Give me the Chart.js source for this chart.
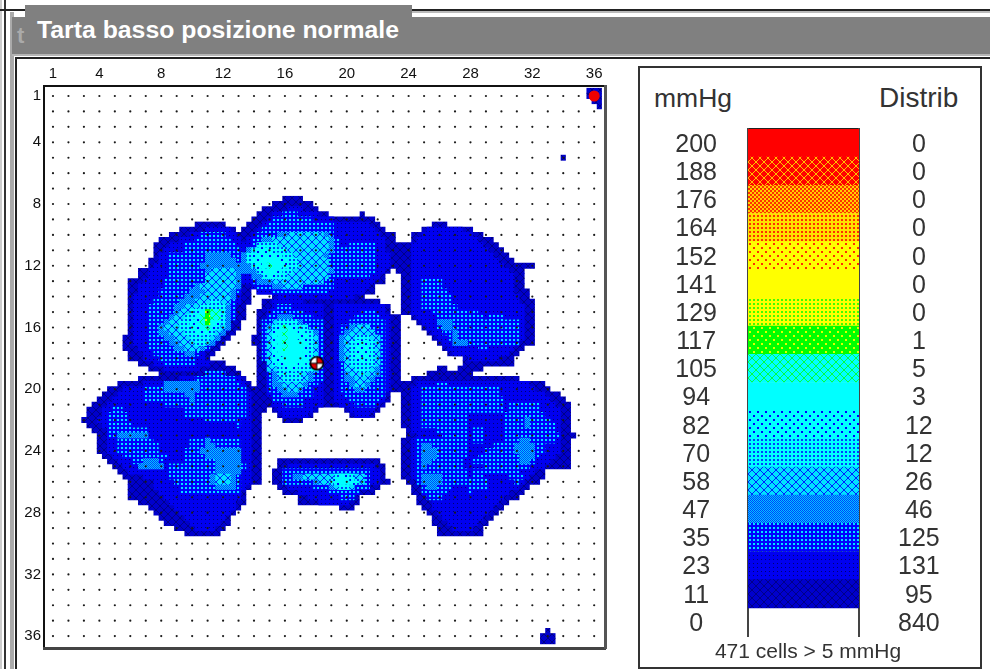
<!DOCTYPE html>
<html>
<head>
<meta charset="utf-8">
<title>Tarta basso posizione normale</title>
<script src="https://cdn.jsdelivr.net/npm/chart.js@4"></script>
<style>
  html, body { margin: 0; padding: 0; background: #fff; }
  body { width: 990px; height: 669px; position: relative; overflow: hidden; font-family: "Liberation Sans", Arial, sans-serif; }
  .abs { position: absolute; }
  #title { left: 37px; top: 16px; color: #fff; font-weight: bold; font-size: 24.8px; line-height: 28px; white-space: nowrap; }
  #ghost { left: 17px; top: 22px; color: #aaa; font-weight: bold; font-size: 22px; line-height: 28px; }
  #panel { left: 638px; top: 66px; width: 340px; height: 599px; border: 2px solid #333; box-sizing: content-box; }
  .head { line-height: 30px; color: #333; white-space: nowrap; }
  #foot { left: 640px; width: 336px; top: 639px; text-align: center; font-size: 21px; line-height: 24px; color: #333; white-space: nowrap; }
  canvas { position: absolute; }
</style>
</head>
<body>
<!-- window frame -->
<div class="abs" style="left:0;top:0;width:2px;height:669px;background:#ccc"></div>
<div class="abs" style="left:4px;top:0;width:2px;height:669px;background:#333"></div>
<div class="abs" style="left:10px;top:12px;width:4px;height:657px;background:#aaa"></div>
<div class="abs" style="left:15px;top:57px;width:2px;height:612px;background:#222"></div>
<div class="abs" style="left:0;top:9px;width:25px;height:2px;background:#222"></div>
<div class="abs" style="left:412px;top:9px;width:578px;height:2px;background:#222"></div>
<div class="abs" style="left:412px;top:11px;width:578px;height:2px;background:#bbb"></div>
<div class="abs" style="left:12px;top:17px;width:978px;height:38px;background:#808080"></div>
<div class="abs" style="left:25px;top:5px;width:387px;height:13px;background:#808080"></div>
<div class="abs" style="left:12px;top:54px;width:978px;height:2px;background:#b5b5b5"></div>
<div class="abs" style="left:15px;top:57px;width:975px;height:2px;background:#222"></div>
<div class="abs" id="ghost">t</div>
<div class="abs" id="title">Tarta basso posizione normale</div>

<canvas id="mapChart" width="598" height="599" style="left:16px;top:58px"></canvas>

<div class="abs" id="panel"></div>
<div class="abs head" style="left:654px;top:83px;font-size:26.5px">mmHg</div>
<div class="abs head" style="left:879px;top:83px;font-size:28px">Distrib</div>
<canvas id="scaleChart" width="338" height="590" style="left:640px;top:70px"></canvas>
<div class="abs" id="foot">471 cells &gt; 5 mmHg</div>

<script>
// ------------------------
// DATA
// ------------------------
const axisTicks = [1, 4, 8, 12, 16, 20, 24, 28, 32, 36];
const sensorRows = 36;
const sensorCols = 36;

const mmHgLevels = [200, 188, 176, 164, 152, 141, 129, 117, 105, 94, 82, 70, 58, 47, 35, 23, 11, 0];
const distribCounts = [0, 0, 0, 0, 0, 0, 0, 1, 5, 3, 12, 12, 26, 46, 125, 131, 95, 840];

// map spans: [sub-row, first sub-column, end sub-column], three sub-cells per sensor
const spans11 = [
  [0,105,108],[1,105,108],[2,106,108],[3,107,108],[13,100,101],
  [21,46,50],[22,44,52],[23,42,53],[24,41,55],[24,61,62],[25,40,64],
  [26,29,35],[26,39,65],[26,75,78],[27,26,37],[27,38,66],[27,73,83],
  [28,24,68],[28,71,85],[29,22,68],[29,71,87],[30,21,88],[31,21,89],[32,21,90],[33,20,91],[34,20,95],
  [35,18,67],[35,68,93],[36,18,66],[36,69,93],[37,16,66],[37,69,93],[38,16,64],[38,69,93],
  [39,16,40],[39,41,64],[39,69,94],[40,16,40],[40,44,62],[40,69,94],[41,16,40],[41,42,65],[41,69,95],
  [42,16,39],[42,42,67],[42,69,95],[43,16,39],[43,41,67],[43,69,95],[44,16,39],[44,41,69],[44,71,95],
  [45,16,38],[45,41,69],[45,72,95],[46,16,38],[46,41,69],[46,73,95],[47,16,37],[47,41,69],[47,74,95],
  [48,15,36],[48,40,69],[48,75,95],[49,15,35],[49,40,69],[49,76,95],[50,15,34],[50,41,69],[50,77,93],
  [51,16,33],[51,41,69],[51,78,92],[52,16,32],[52,41,69],[52,81,91],[53,18,35],[53,41,69],[53,81,91],
  [54,20,37],[54,41,69],[54,76,78],[54,80,85],[55,22,38],[55,41,69],[55,74,83],[56,18,39],[56,41,69],[56,71,92],
  [57,14,40],[57,41,97],[58,12,98],[59,11,67],[59,69,100],[60,10,67],[60,69,101],[61,9,66],[61,69,102],
  [62,8,43],[62,44,53],[62,58,65],[62,69,102],[63,8,42],[63,45,52],[63,59,64],[63,69,102],
  [64,7,42],[64,46,50],[64,69,102],[65,8,42],[65,69,102],[66,9,42],[66,70,102],[67,10,42],[67,70,103],
  [68,10,42],[68,69,102],[69,10,42],[69,69,102],[70,10,42],[70,69,102],[71,11,42],[71,69,102],
  [72,12,42],[72,45,65],[72,69,102],[73,13,42],[73,45,66],[73,69,102],[74,14,42],[74,44,66],[74,69,97],
  [75,15,42],[75,44,66],[75,69,97],[76,16,42],[76,44,67],[76,70,96],[77,16,40],[77,45,65],[77,71,94],
  [78,16,39],[78,46,64],[78,71,93],[79,16,39],[79,49,61],[79,72,92],[80,18,39],[80,49,61],[80,72,90],
  [81,20,38],[81,57,60],[81,73,89],[82,21,37],[82,74,88],[83,22,36],[83,75,87],[84,23,36],[84,75,86],
  [85,25,35],[85,76,85],[86,27,34],[86,76,85],
  [105,97,98],[106,96,99],[107,96,99]
];

const spans23 = [
  [23,47,50],[24,44,53],[25,43,56],[26,42,63],[27,31,36],[27,41,64],[27,74,81],[28,28,37],[28,40,65],[28,73,83],
  [29,26,38],[29,39,66],[29,72,84],[30,24,66],[30,71,85],[31,23,66],[31,71,86],[32,22,67],[32,71,87],
  [33,22,67],[33,71,88],[34,21,67],[34,71,89],[35,20,66],[35,71,90],[36,20,65],[36,71,91],[37,19,64],[37,71,91],
  [38,18,38],[38,40,63],[38,71,91],[39,18,38],[39,41,62],[39,71,91],[40,17,38],[40,45,60],[40,71,92],
  [41,17,38],[41,44,50],[41,71,92],[42,17,37],[42,44,54],[42,56,66],[42,71,93],[43,17,37],[43,43,54],[43,56,66],[43,71,93],
  [44,17,37],[44,43,54],[44,56,67],[44,72,93],[45,17,36],[45,43,54],[45,56,67],[45,73,93],[46,17,36],[46,43,54],[46,56,67],[46,74,93],
  [47,17,35],[47,43,54],[47,56,67],[47,75,93],[48,17,34],[48,43,54],[48,56,67],[48,76,93],[49,17,33],[49,43,54],[49,56,67],[49,77,92],
  [50,18,32],[50,43,54],[50,56,67],[50,78,91],[51,19,31],[51,43,54],[51,56,67],[51,79,90],[52,19,31],[52,43,54],[52,56,67],[52,82,88],
  [53,21,32],[53,43,54],[53,56,67],[54,23,30],[54,43,54],[54,56,67],[55,43,54],[55,56,67],
  [56,26,38],[56,43,54],[56,56,67],[57,19,39],[57,43,54],[57,56,67],[57,72,94],
  [58,15,39],[58,43,54],[58,56,67],[58,71,95],[59,14,40],[59,43,54],[59,56,66],[59,71,97],
  [60,13,40],[60,44,54],[60,56,66],[60,71,98],[61,12,40],[61,44,54],[61,57,65],[61,71,99],
  [62,11,40],[62,45,52],[62,59,64],[62,71,100],[63,11,40],[63,46,51],[63,60,63],[63,71,100],
  [64,10,40],[64,71,100],[65,11,40],[65,71,100],[66,12,40],[66,71,100],[67,12,40],[67,72,100],
  [68,12,40],[68,71,100],[69,12,40],[69,71,100],[70,12,40],[70,71,100],[71,13,40],[71,71,99],
  [72,14,40],[72,71,98],[73,15,40],[73,47,64],[73,71,97],[74,16,40],[74,46,65],[74,71,95],
  [75,19,40],[75,46,65],[75,71,94],[76,21,40],[76,46,65],[76,72,93],[77,21,39],[77,47,63],[77,73,92],
  [78,22,38],[78,49,61],[78,74,90],[79,23,38],[79,51,59],[79,74,89],[80,24,37],[80,53,59],[80,75,88],
  [81,25,37],[81,75,87],[82,26,36],[82,76,86],[83,27,35],[83,77,85],[84,28,34],[84,78,84],[85,29,33],[85,79,83]
];

const spans35 = [
  [24,46,49],[25,44,52],[26,43,56],[27,42,56],[28,30,35],[28,41,56],[29,29,36],[29,40,57],[30,27,37],[30,40,57],[30,59,64],
  [31,27,38],[31,39,64],[32,24,64],[33,24,64],[34,24,64],[35,24,64],[36,24,38],[36,40,63],
  [37,23,38],[37,40,56],[37,73,77],[38,23,38],[38,41,56],[38,73,77],[39,22,38],[39,44,55],[39,73,78],
  [40,22,37],[40,73,79],[41,21,37],[41,73,79],[42,20,37],[42,45,48],[42,73,80],[43,20,37],[43,44,50],[43,61,64],[43,75,84],
  [44,20,37],[44,43,52],[44,60,65],[44,76,85],[44,86,89],[45,20,36],[45,42,54],[45,59,66],[45,76,92],
  [46,20,36],[46,42,54],[46,57,66],[46,76,92],[47,20,35],[47,42,54],[47,57,66],[47,77,92],
  [48,20,34],[48,42,54],[48,57,66],[48,78,92],[49,20,33],[49,42,54],[49,57,66],[49,79,92],
  [50,20,32],[50,42,54],[50,57,66],[50,84,86],[51,21,30],[51,42,54],[51,57,66],[52,22,29],[52,42,54],[52,57,66],
  [53,23,29],[53,43,54],[53,57,66],[54,43,54],[54,57,66],[55,31,35],[55,43,54],[55,57,66],
  [56,29,37],[56,43,54],[56,57,66],[57,23,38],[57,43,53],[57,57,66],[57,76,78],
  [58,19,39],[58,43,52],[58,57,66],[58,73,88],[59,19,39],[59,44,52],[59,58,66],[59,73,88],
  [60,19,39],[60,44,50],[60,59,65],[60,73,89],[61,23,39],[61,46,50],[61,60,64],[61,73,89],[61,90,96],
  [62,13,15],[62,27,39],[62,73,89],[62,90,96],[63,12,16],[63,27,39],[63,73,82],[63,89,97],
  [64,12,16],[64,31,38],[64,73,82],[64,89,98],[65,12,17],[65,37,38],[65,73,82],[65,89,99],
  [66,12,20],[66,76,82],[66,83,85],[66,89,99],[67,12,20],[67,77,82],[67,83,85],[67,89,100],
  [68,14,21],[68,28,38],[68,72,82],[68,83,85],[68,89,99],[69,14,22],[69,28,38],[69,72,82],[69,87,97],
  [70,14,22],[70,27,38],[70,72,82],[70,85,97],[71,15,24],[71,27,38],[71,72,82],[71,84,96],
  [72,17,23],[72,27,38],[72,72,81],[72,83,95],[73,18,23],[73,24,39],[73,72,81],[73,85,94],
  [74,24,38],[74,46,63],[74,72,82],[74,83,92],[75,24,38],[75,46,63],[75,72,82],[75,83,85],[75,90,93],
  [76,25,38],[76,46,63],[76,72,86],[76,91,92],[77,26,38],[77,52,63],[77,73,79],[77,82,86],
  [78,26,38],[78,55,61],[78,73,78],[78,82,83],[79,57,60],[79,74,77]
];

const spans47 = [
  [28,45,55],[29,42,56],[30,41,56],[31,39,56],[32,31,36],[32,38,55],[33,31,37],[33,38,55],[34,30,38],[34,38,55],
  [35,31,38],[35,38,56],[36,31,38],[36,40,54],[37,31,38],[37,41,54],[38,29,38],[38,44,50],
  [39,28,37],[40,27,37],[41,26,36],[42,25,36],[43,25,36],[44,24,36],[44,45,48],
  [45,23,36],[45,44,50],[45,76,79],[46,22,36],[46,43,51],[46,59,63],[46,77,79],
  [47,22,35],[47,43,53],[47,58,64],[47,79,80],[48,23,34],[48,43,53],[48,57,65],[48,79,80],
  [49,24,33],[49,43,53],[49,57,65],[49,79,82],[50,25,31],[50,43,53],[50,57,65],[51,27,29],[51,43,53],[51,57,65],
  [52,43,53],[52,57,65],[53,43,53],[53,58,65],[54,43,53],[54,58,65],[55,44,52],[55,58,65],
  [56,44,52],[56,58,64],[57,23,30],[57,44,51],[57,59,63],[58,23,30],[58,45,50],[58,60,62],
  [59,27,29],[59,46,49],[60,28,29],[64,93,94],[65,93,94],[67,14,20],
  [68,31,32],[68,92,94],[69,31,33],[69,73,75],[69,91,95],[70,30,38],[70,73,76],[70,91,95],
  [71,31,38],[71,73,76],[71,92,95],[72,19,22],[72,33,38],[72,73,75],[72,92,94],[73,18,23],[73,33,38],[73,73,74],
  [74,33,38],[75,32,37],[75,48,62],[75,73,77],[76,32,37],[76,52,62],[76,73,77],[77,33,37],[77,55,60],[77,74,76]
];

const spans58 = [
  [28,47,54],[29,44,55],[30,43,55],[31,41,55],[32,40,54],[33,40,55],[34,40,55],[35,32,37],[35,41,55],
  [36,31,37],[36,42,55],[37,31,37],[37,44,54],[38,30,37],[38,46,50],[39,31,36],
  [40,30,36],[41,29,36],[42,27,35],[43,26,35],[44,25,35],[45,24,35],[45,44,49],
  [46,23,35],[46,44,50],[46,60,63],[47,24,34],[47,43,52],[47,59,64],[48,25,33],[48,43,53],[48,58,65],
  [49,26,32],[49,43,53],[49,58,65],[50,27,30],[50,43,53],[50,58,65],[51,43,53],[51,58,65],[52,43,53],[52,58,65],
  [53,43,53],[53,58,65],[54,43,53],[54,58,64],[55,45,51],[55,59,64],[56,45,51],[56,60,63],[57,46,50],[57,60,62],[58,47,49],
  [75,33,36],[75,50,62],[76,33,36],[76,53,62],[77,56,60]
];

const spans70 = [
  [30,41,45],[31,40,47],[32,39,48],[33,39,49],[34,40,49],[35,41,48],[36,42,47],
  [41,32,34],[42,30,35],[43,28,35],[44,27,35],[45,26,35],[45,45,49],[46,26,34],[46,44,51],
  [47,27,33],[47,44,52],[48,28,32],[48,44,52],[48,60,63],[49,29,31],[49,44,52],[49,59,64],
  [50,44,52],[50,59,64],[51,44,52],[51,59,64],[52,44,52],[52,59,64],[53,44,52],[53,59,64],
  [54,45,52],[54,60,63],[55,45,50],[55,61,62],[56,46,50],[75,56,60],[76,55,61],[77,57,59]
];

const spans82 = [
  [31,41,44],[32,40,46],[33,40,47],[34,41,47],[35,42,46],[36,43,45],
  [43,30,34],[44,29,34],[45,28,34],[46,28,33],[46,45,49],[47,29,32],[47,44,50],
  [48,44,51],[49,44,51],[49,60,63],[50,44,51],[50,60,63],[51,44,51],[51,60,63],[52,44,51],[52,60,63],
  [53,45,50],[54,46,49],[75,57,59],[76,56,60]
];

const spans94 = [
  [33,42,45],[34,42,46],[35,43,45],[44,30,33],[45,30,33],[46,30,32],
  [47,45,49],[48,45,49],[49,45,50],[50,45,50],[51,45,50],[52,46,50],[53,47,49],[76,57,59]
];

const spans105 = [
  [34,43,44],[43,31,34],[44,30,34],[45,30,32],[46,31,32],
  [46,46,47],[47,46,47],[48,46,47],[49,46,47],[50,46,47]
];

const spans117 = [[43,31,32],[44,31,32],[45,31,32]];

// red spot top right and pressure centre marker, in sensor units
const peakPoint = [{ x: 36, y: 1 }];
const centrePoint = [{ x: 18.06, y: 18.32 }];

// ------------------------
// DITHER PATTERNS
// ------------------------
function makePattern(base, dot, rows) {
  const c = document.createElement("canvas");
  c.width = rows[0].length;
  c.height = rows.length;
  const g = c.getContext("2d");
  g.fillStyle = base;
  g.fillRect(0, 0, c.width, c.height);
  g.fillStyle = dot;
  rows.forEach((row, y) => {
    [...row].forEach((ch, x) => {
      if (ch === "1") g.fillRect(x, y, 1, 1);
    });
  });
  return g.createPattern(c, "repeat");
}

const CROSS = ["10000001", "01000010", "00100100", "00011000", "00011000", "00100100", "01000010", "10000001"];
const GRID = ["0000", "0110", "0110", "0000"];
const STAGGER = ["00000000", "01100000", "01100000", "00000000", "00000000", "00000110", "00000110", "00000000"];
const BLOCKS = ["1100", "1100", "0011", "0011"];

const fill200 = "#ff0000";
const fill188 = makePattern("#ff0000", "#ffc000", CROSS);
const fill176 = makePattern("#ff3000", "#ffd000", BLOCKS);
const fill164 = makePattern("#ffe000", "#ff3000", GRID);
const fill152 = makePattern("#ffff00", "#ff3000", STAGGER);
const fill141 = "#ffff00";
const fill129 = makePattern("#ffff00", "#40ff00", GRID);
const fill117 = makePattern("#00ff00", "#e0ff00", STAGGER);
const fill105 = makePattern("#00ffff", "#00ff40", CROSS);
const fill94 = "#00ffff";
const fill82 = makePattern("#00ffff", "#0000ff", STAGGER);
const fill70 = makePattern("#00ffff", "#0040ff", GRID);
const fill58 = makePattern("#00e0ff", "#0020ff", CROSS);
const fill47 = makePattern("#00c8ff", "#0040ff", ["10", "01"]);
const fill35 = makePattern("#0000ff", "#00e0ff", GRID);
const fill23 = makePattern("#0000f0", "#000070", ["0000", "0100", "0000", "0000"]);
const fill11 = makePattern("#0000cc", "#000088", CROSS);

const scaleFills = [fill200, fill188, fill176, fill164, fill152, fill141, fill129, fill117, fill105,
  fill94, fill82, fill70, fill58, fill47, fill35, fill23, fill11, "rgba(0,0,0,0)"];

// ------------------------
// MAP CHART
// ------------------------
const subToX = k => 0.5 + k / 3;
const rowToY = j => 0.5 + (j + 0.5) / 3;

function bandDataset(spans, fill, order) {
  return {
    type: "bar",
    data: spans.map(s => ({ y: rowToY(s[0]), x: [subToX(s[1]), subToX(s[2])] })),
    backgroundColor: fill,
    borderWidth: 0,
    order
  };
}

const sensorDots = [];
for (let r = 1; r <= sensorRows; r++) {
  for (let c = 1; c <= sensorCols; c++) {
    sensorDots.push({ x: c, y: r });
  }
}

function centreMarker() {
  const c = document.createElement("canvas");
  c.width = 16;
  c.height = 16;
  const g = c.getContext("2d");
  const m = 8;
  g.fillStyle = "#fff";
  g.beginPath(); g.arc(m, m, 6.5, 0, Math.PI * 2); g.fill();
  g.fillStyle = "#e00000";
  g.beginPath(); g.moveTo(m, m); g.arc(m, m, 6.5, -Math.PI / 2, 0); g.fill();
  g.beginPath(); g.moveTo(m, m); g.arc(m, m, 6.5, Math.PI / 2, Math.PI); g.fill();
  g.strokeStyle = "#000";
  g.lineWidth = 1.6;
  g.beginPath(); g.arc(m, m, 6.5, 0, Math.PI * 2); g.stroke();
  g.lineWidth = 1;
  g.beginPath(); g.moveTo(m, 1); g.lineTo(m, 15); g.moveTo(1, m); g.lineTo(15, m); g.stroke();
  return c;
}

// fixed axis sizes, and no room kept for labels that stick out past the ends
function fixWidth(w) {
  return axis => { axis.width = w; axis.paddingTop = 0; axis.paddingBottom = 0; };
}
function fixHeight(h) {
  return axis => { axis.height = h; axis.paddingLeft = 0; axis.paddingRight = 0; };
}

const tickFont = { family: "'Liberation Sans', Arial, sans-serif", size: 15 };

new Chart(document.getElementById("mapChart").getContext("2d"), {
  data: {
    datasets: [
      bandDataset(spans11, fill11, 20),
      bandDataset(spans23, fill23, 19),
      bandDataset(spans35, fill35, 18),
      bandDataset(spans47, fill47, 17),
      bandDataset(spans58, fill58, 16),
      bandDataset(spans70, fill70, 15),
      bandDataset(spans82, fill82, 14),
      bandDataset(spans94, fill94, 13),
      bandDataset(spans105, fill105, 12),
      bandDataset(spans117, fill117, 11),
      {
        type: "scatter",
        data: sensorDots,
        pointRadius: 1.1,
        pointBackgroundColor: "#1a1a1a",
        pointBorderWidth: 0,
        order: 3
      },
      {
        type: "scatter",
        data: peakPoint,
        pointRadius: 5.5,
        pointBackgroundColor: "#f00000",
        pointBorderWidth: 0,
        order: 2
      },
      {
        type: "scatter",
        data: centrePoint,
        pointStyle: centreMarker(),
        pointRadius: 8,
        order: 1
      }
    ]
  },
  options: {
    responsive: false,
    animation: false,
    indexAxis: "y",
    datasets: {
      bar: { grouped: false, categoryPercentage: 1, barPercentage: 1.15 }
    },
    plugins: { legend: { display: false }, tooltip: { enabled: false } },
    layout: { padding: 0 },
    scales: {
      x: {
        type: "linear",
        position: "top",
        min: 0.419,
        max: 36.7,
        grid: { display: false, drawTicks: false },
        border: { color: "#111", width: 2 },
        afterBuildTicks: axis => { axis.ticks = axisTicks.map(v => ({ value: v })); },
        afterFit: fixHeight(28),
        ticks: { color: "#111", font: tickFont, padding: 3, autoSkip: false, maxRotation: 0, callback: v => String(v) }
      },
      y: {
        type: "linear",
        position: "left",
        reverse: true,
        offset: false,
        min: 0.352,
        max: 36.77,
        grid: { display: false, drawTicks: false, offset: false },
        border: { color: "#111", width: 2 },
        afterBuildTicks: axis => { axis.ticks = axisTicks.map(v => ({ value: v })); },
        afterFit: fixWidth(28),
        ticks: { color: "#111", font: tickFont, padding: 3, autoSkip: false, callback: v => String(v) }
      },
      x2: {
        axis: "x",
        type: "linear",
        position: "bottom",
        grid: { display: false, drawTicks: false },
        border: { color: "#444", width: 3 },
        ticks: { display: false },
        afterFit: fixHeight(2)
      },
      y2: {
        axis: "y",
        type: "linear",
        position: "right",
        grid: { display: false, drawTicks: false },
        border: { color: "#555", width: 3 },
        ticks: { display: false },
        afterFit: fixWidth(2)
      }
    }
  }
});

// ------------------------
// COLOUR SCALE CHART
// ------------------------
const scaleFont = { family: "'Liberation Sans', Arial, sans-serif", size: 25 };

new Chart(document.getElementById("scaleChart").getContext("2d"), {
  type: "bar",
  data: {
    labels: mmHgLevels.map(String),
    datasets: [{
      data: mmHgLevels.map(() => 1),
      backgroundColor: scaleFills,
      borderWidth: 0,
      categoryPercentage: 1,
      barPercentage: 1
    }]
  },
  options: {
    responsive: false,
    animation: false,
    indexAxis: "y",
    plugins: { legend: { display: false }, tooltip: { enabled: false } },
    layout: { padding: { bottom: 24 } },
    scales: {
      x: {
        position: "top",
        min: 0,
        max: 1,
        grid: { display: false, drawTicks: false },
        border: { color: "#222", width: 2 },
        ticks: { display: false },
        afterFit: fixHeight(59)
      },
      y: {
        position: "left",
        grid: { display: false, drawTicks: false },
        border: { color: "#444", width: 2 },
        afterFit: fixWidth(108),
        ticks: { color: "#333", font: scaleFont, crossAlign: "center", padding: 31, labelOffset: 2, autoSkip: false }
      },
      y2: {
        axis: "y",
        type: "category",
        labels: distribCounts.map(String),
        position: "right",
        offset: true,
        grid: { display: false, drawTicks: false },
        border: { color: "#444", width: 2 },
        afterFit: fixWidth(119),
        ticks: { color: "#333", font: scaleFont, crossAlign: "center", padding: 39, labelOffset: 2, autoSkip: false }
      }
    }
  }
});
</script>
</body>
</html>
